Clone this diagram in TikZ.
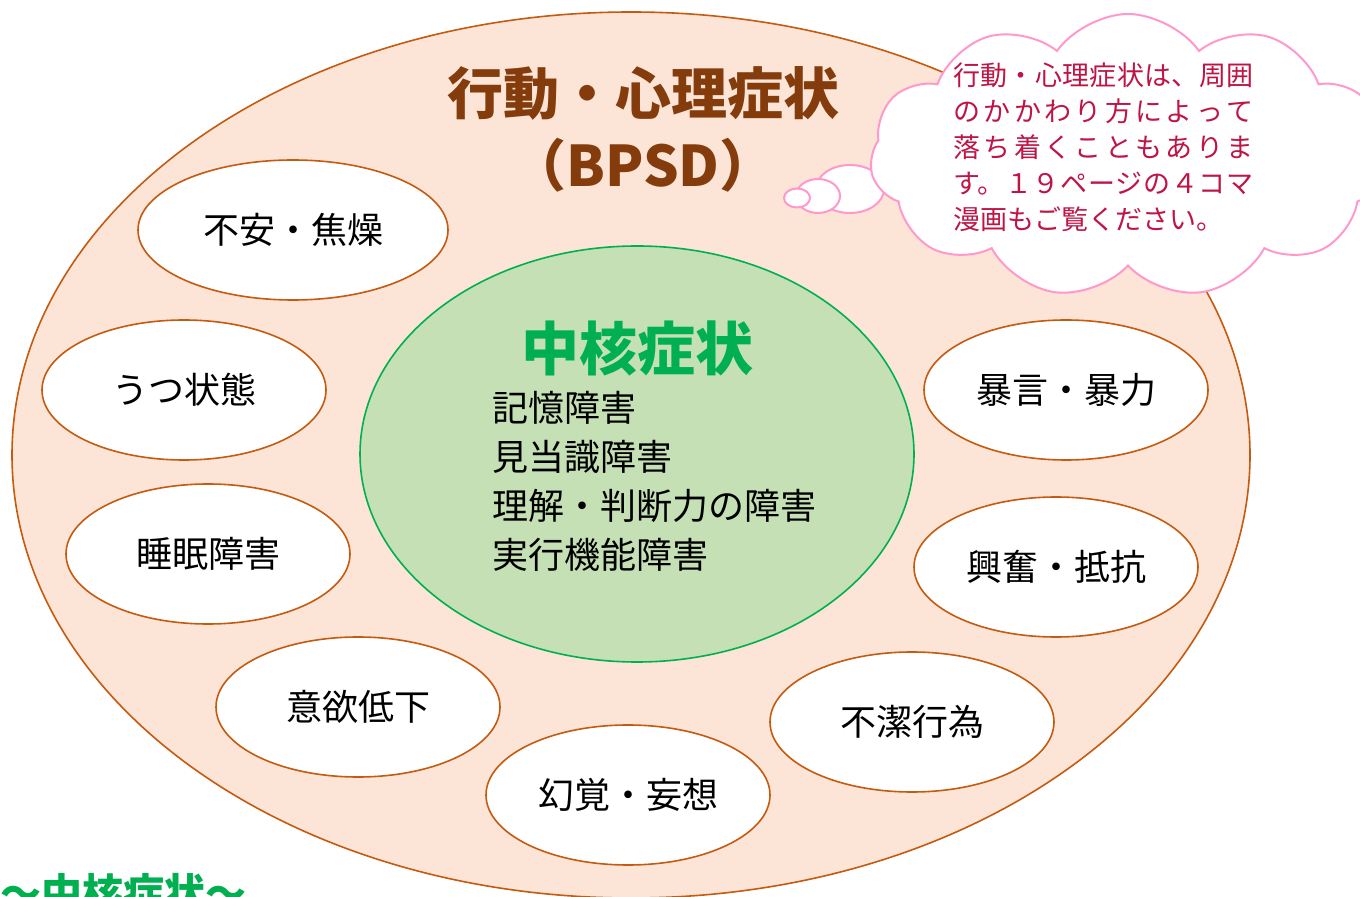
\documentclass[tikz,border=0pt]{standalone}
\usepackage{fontspec}
\setmainfont{Noto Sans CJK JP}
\XeTeXlinebreaklocale "ja"
\XeTeXlinebreakskip=0pt plus 3pt
\usepackage{tikz}
\usetikzlibrary{shapes.geometric,shapes.symbols}

\definecolor{peach}{RGB}{252,228,214}
\definecolor{rust}{RGB}{197,90,17}
\definecolor{brownish}{RGB}{132,60,12}
\definecolor{leaf}{RGB}{197,224,180}
\definecolor{grass}{RGB}{0,176,80}
\definecolor{rosy}{RGB}{255,153,204}
\definecolor{crimson}{RGB}{190,20,70}

\newcommand{\fsz}[2]{\fontsize{#1}{#2}\selectfont}

\tikzset{
	outer/.style={ellipse,draw=rust,fill=peach,line width=.8pt,inner sep=0pt},
	core/.style={ellipse,draw=grass,fill=leaf,line width=.8pt,inner sep=0pt},
	symp/.style={ellipse,draw=rust,fill=white,line width=.8pt,inner sep=0pt,
		minimum width=142pt,minimum height=70pt,font=\fsz{18pt}{22pt}},
	puff/.style={ellipse,draw=rosy,fill=white,line width=1pt,inner sep=0pt},
	kumo/.style={cloud,cloud puffs=11,cloud puff arc=110,draw=rosy,fill=white,
		line width=1pt,inner sep=0pt,aspect=1.8}
}

\begin{document}
\begin{tikzpicture}[x=.5pt,y=-.5pt]

	\useasboundingbox (0,0) rectangle (1360,897);

	% outer ellipse
	\node[outer,minimum width=619pt,minimum height=443pt] (bpsd) at (631,455) {};

	% core symptoms
	\node[core,minimum width=277pt,minimum height=208pt] (chukaku) at (637,454) {};
	\node[text=grass,font=\fsz{29pt}{32pt}\bfseries] (chukakutitle) at (637,348) {中核症状};
	\node[anchor=west,align=left,inner sep=0pt,font=\fsz{18pt}{24.5pt}] (chukakulist) at (492,481)
		{記憶障害\\見当識障害\\理解・判断力の障害\\実行機能障害};

	% title
	\node[text=brownish,font=\fsz{28pt}{32pt}\bfseries] (title) at (643,93) {行動・心理症状};
	\node[text=brownish,font=\fsz{28pt}{32pt}\bfseries] (subtitle) at (643,165) {（BPSD）};

	% peripheral symptoms
	\node[symp,minimum width=155pt] (fuan) at (293,230) {不安・焦燥};
	\node[symp] (utsu) at (184,390) {うつ状態};
	\node[symp] (suimin) at (208,554) {睡眠障害};
	\node[symp] (iyoku) at (358,707) {意欲低下};
	\node[symp] (genkaku) at (628,795) {幻覚・妄想};
	\node[symp] (fuketsu) at (912,722) {不潔行為};
	\node[symp] (kofun) at (1056,567) {興奮・抵抗};
	\node[symp] (bogen) at (1066,390) {暴言・暴力};

	% speech cloud
	\node[puff,minimum width=34pt,minimum height=24pt] (puffc) at (850,189) {};
	\node[puff,minimum width=22pt,minimum height=17pt] (puffb) at (818,196) {};
	\node[puff,minimum width=13pt,minimum height=9.5pt] (puffa) at (797,198) {};
	\node[kumo,minimum width=258pt,minimum height=142pt] (kumo) at (1128,156) {};
	\node[anchor=west,align=justify,text width=150pt,inner sep=0pt,text=crimson,font=\fsz{13.5pt}{18pt}] (kumotext) at (953,147)
		{行動・心理症状は、周囲\linebreak のかかわり方によって\linebreak 落ち着くこともありま\linebreak す。１９ページの４コマ\linebreak 漫画もご覧ください。};

	% caption
	\node[anchor=west,inner sep=0pt,text=grass,font=\fsz{20.5pt}{24pt}\bfseries] (caption) at (0,893) {〜中核症状〜};

\end{tikzpicture}
\end{document}
